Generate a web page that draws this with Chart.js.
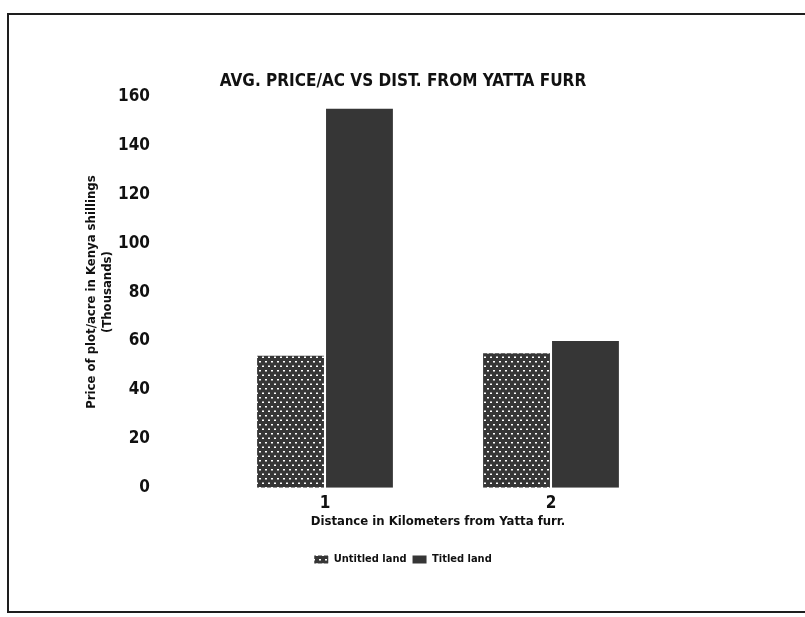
<!DOCTYPE html>
<html>
<head>
<meta charset="utf-8">
<script src="https://cdn.jsdelivr.net/npm/chart.js@4"></script>
<style>
  body { margin: 0; background: #fff; overflow: hidden; }
  #wrap { position: relative; width: 805px; height: 617px; }
  #frame {
    position: absolute; left: 7px; top: 13px; width: 820px; height: 596px;
    border: 2px solid #1e1e1e; border-right: none;
  }
  canvas { position: absolute; left: 0; top: 0; }
</style>
</head>
<body>
<div id="wrap">
  <div id="frame"></div>
  <canvas id="barChart" width="805" height="617"></canvas>
</div>
<script>
// distance from Yatta furrow (km)
const distances = ["1", "2"];
// average price per acre, thousands of Kenya shillings
const untitledLand = [54, 55];
const titledLand = [155, 60];
const seriesNames = ["Untitled land", "Titled land"];
const yTicks = [0, 20, 40, 60, 80, 100, 120, 140, 160];

const fontFam = "'Liberation Sans Narrow', 'DejaVu Sans Condensed', 'Arial Narrow', sans-serif";
const dark = "#363636";

// dotted fill like the old printer hatch
const makeDots = () => {
  const c = document.createElement("canvas");
  c.width = 6;
  c.height = 9;
  const g = c.getContext("2d");
  g.fillStyle = dark;
  g.fillRect(0, 0, 6, 9);
  g.fillStyle = "#fff";
  g.fillRect(1, 1, 2, 1.5);
  g.fillRect(4, 5.5, 2, 1.5);
  return g.createPattern(c, "repeat");
};
const dots = makeDots();

const ctx = document.getElementById("barChart").getContext("2d");
new Chart(ctx, {
  type: "bar",
  data: {
    labels: distances,
    datasets: [
      { label: seriesNames[0], data: untitledLand, backgroundColor: dots, borderWidth: 0 },
      { label: seriesNames[1], data: titledLand, backgroundColor: dark, borderWidth: 0 }
    ]
  },
  options: {
    responsive: false,
    animation: false,
    layout: { padding: { left: 80, right: 79, top: 61, bottom: 42 } },
    datasets: { bar: { categoryPercentage: 0.61, barPercentage: 0.97 } },
    plugins: {
      tooltip: { enabled: false },
      title: {
        display: true,
        text: "AVG. PRICE/AC VS DIST. FROM YATTA FURR",
        color: "#111",
        font: { family: fontFam, size: 17, weight: "bold" },
        padding: { top: 10, bottom: 5 }
      },
      legend: {
        position: "bottom",
        // empty title just to push the key down a bit
        title: { display: true, text: "", font: { size: 1 }, padding: { top: 17, bottom: 0 } },
        labels: {
          color: "#111",
          font: { family: fontFam, size: 11, weight: "bold" },
          boxWidth: 14,
          boxHeight: 8,
          padding: 6
        }
      }
    },
    scales: {
      x: {
        grid: { display: false, drawTicks: false },
        border: { display: false },
        ticks: { color: "#111", padding: 6, font: { family: fontFam, size: 17, weight: "bold" } },
        title: {
          display: true,
          text: "Distance in Kilometers from Yatta furr.",
          color: "#111",
          padding: { top: 0, bottom: 0 },
          font: { family: fontFam, size: 13, weight: "bold" }
        },
        afterFit: (axis) => { axis.height = 42; }
      },
      y: {
        min: 0,
        max: 160,
        grid: { display: false, drawTicks: false },
        border: { display: false },
        afterBuildTicks: (axis) => { axis.ticks = yTicks.map(v => ({ value: v })); },
        ticks: { color: "#111", padding: 62, font: { family: fontFam, size: 17, weight: "bold" } },
        title: {
          display: true,
          text: ["Price of plot/acre in Kenya shillings", "(Thousands)"],
          color: "#111",
          padding: { top: 4, bottom: 0 },
          font: { family: fontFam, size: 13, weight: "bold" },
          lineHeight: 1.15
        },
        afterFit: (axis) => { axis.width = 132; }
      },
      // empty right-hand box so the title sits centred on the page like the original
      yPad: {
        position: "right",
        display: true,
        grid: { display: false, drawTicks: false },
        border: { display: false },
        ticks: { display: false },
        afterFit: (axis) => { axis.width = 62; }
      }
    }
  }
});
</script>
</body>
</html>
